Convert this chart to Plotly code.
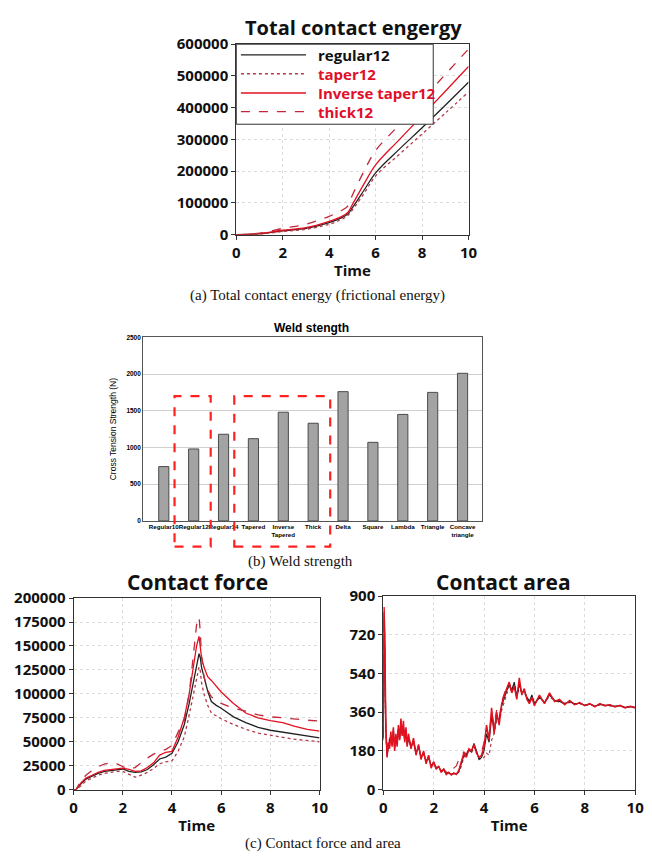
import plotly.graph_objects as go

# ---------------- data ----------------
SERIES = ["regular12", "taper12", "inverse taper12", "thick12"]
LEGEND_LABELS = ["regular12", "taper12", "Inverse taper12", "thick12"]

# (a) total contact energy
T_ENERGY = [0, 1, 2, 3, 4, 4.5, 4.8, 5, 5.5, 6, 7, 8, 9, 10]
E_REGULAR = [0, 3000, 12000, 20000, 38000, 52000, 65000, 85000, 140000, 195000, 268000, 337000, 408000, 480000]
E_TAPER = [0, 2000, 10000, 17000, 33000, 47000, 60000, 78000, 130000, 185000, 252000, 317000, 383000, 450000]
E_INVERSE = [0, 3500, 14000, 22000, 42000, 56000, 70000, 95000, 160000, 220000, 298000, 375000, 452000, 530000]
E_THICK = [0, 5000, 20000, 33000, 58000, 75000, 90000, 125000, 200000, 265000, 345000, 425000, 505000, 585000]

# (b) weld strength
WELD_CATS = ["Regular10", "Regular12", "Regular14", "Tapered", "Inverse<br>Tapered", "Thick",
             "Delta", "Square", "Lambda", "Triangle", "Concave<br>triangle"]
WELD_VALUES = [740, 980, 1180, 1120, 1480, 1330, 1760, 1070, 1450, 1750, 2010]
BOX_GROUPS = [(1, 1), (3, 5)]  # category index ranges highlighted by dashed boxes

# (c) contact force
T_FORCE = [0, 0.1, 0.3, 0.5, 0.75, 1, 1.25, 1.5, 1.75, 2, 2.25, 2.5, 2.75, 3, 3.25, 3.5, 3.75, 4,
           4.25, 4.5, 4.7, 4.9, 5.0, 5.1, 5.15, 5.2, 5.3, 5.45, 5.6, 5.8, 6, 6.5, 7, 7.5, 8, 8.5, 9, 9.5, 10]
F_REGULAR = [0, 0, 6000, 11000, 14000, 17000, 19000, 20000, 21000, 21500, 19000, 18000, 18500, 21000, 26000,
             32000, 34000, 38000, 50000, 68000, 90000, 118000, 132000, 142000, 138000, 128000, 118000, 103000,
             92000, 88000, 85000, 76000, 70000, 65000, 62000, 60000, 57500, 55500, 54000]
F_TAPER = [0, 0, 4000, 9000, 12000, 15000, 17000, 18000, 19000, 19000, 16000, 13000, 15000, 18000, 22000,
           27000, 29000, 30000, 40000, 55000, 78000, 105000, 118000, 128000, 124000, 112000, 100000, 88000,
           80000, 77000, 74000, 68000, 63000, 59000, 56500, 54500, 52500, 51000, 50000]
F_INVERSE = [0, 0, 7000, 12000, 15000, 18000, 20000, 21000, 22000, 22500, 21000, 19000, 19500, 23000, 28000,
             36000, 39000, 40000, 55000, 75000, 100000, 135000, 150000, 160000, 150000, 138000, 128000, 118000,
             114000, 108000, 102000, 90000, 80000, 75000, 72000, 70000, 66000, 63000, 61000]
F_THICK = [0, 0, 9000, 15000, 20000, 24000, 26500, 28000, 27000, 24000, 21000, 23000, 28000, 33000, 37000,
           40000, 42000, 46000, 60000, 72000, 100000, 150000, 172000, 180000, 165000, 140000, 118000, 104000,
           97000, 93000, 90000, 85000, 82000, 78000, 76000, 75000, 73500, 72500, 71500]

# (c) contact area
T_AREA = [0, 0.03, 0.06, 0.1, 0.15, 0.2, 0.25, 0.3, 0.35, 0.4, 0.45, 0.5, 0.55, 0.6, 0.65, 0.7, 0.75, 0.8, 0.85, 0.9, 0.95, 1.0,
          1.1, 1.2, 1.3, 1.4, 1.5, 1.6, 1.7, 1.8, 1.9, 2.0,
          2.1, 2.2, 2.3, 2.4, 2.5, 2.6, 2.7, 2.8, 2.9, 3.0,
          3.1, 3.2, 3.3, 3.4, 3.5, 3.6, 3.7, 3.8, 3.9, 4.0,
          4.1, 4.2, 4.3, 4.4, 4.5, 4.6, 4.7, 4.8, 4.9, 5.0,
          5.1, 5.2, 5.3, 5.4, 5.5, 5.6, 5.7, 5.8, 5.9, 6.0,
          6.2, 6.4, 6.6, 6.8, 7.0, 7.2, 7.4, 7.6, 7.8, 8.0,
          8.2, 8.4, 8.6, 8.8, 9.0, 9.2, 9.4, 9.6, 9.8, 10.0]
A_REGULAR = [240, 820, 650, 280, 160, 200, 230, 250, 210, 270, 200, 240, 210, 280, 240, 310, 260, 290, 230, 270, 210, 240,
             200, 225, 170, 200, 150, 170, 130, 150, 110, 125,
             100, 105, 85, 90, 75, 78, 70, 75, 72, 85,
             120, 160, 160, 185, 175, 215, 180, 140, 150, 180,
             260, 220, 340, 280, 340, 320, 390, 430, 460, 490,
             460, 500, 430, 490, 450, 460, 430, 410, 440, 400,
             430, 405, 440, 415, 410, 400, 410, 398, 402, 392,
             398, 388, 396, 392, 392, 387, 390, 383, 386, 381]
A_TAPER = [230, 800, 600, 260, 170, 210, 240, 230, 220, 250, 210, 230, 220, 260, 250, 290, 260, 280, 240, 260, 220, 230,
           205, 215, 175, 195, 155, 165, 135, 145, 115, 120,
           105, 100, 90, 88, 80, 76, 74, 73, 72, 80,
           110, 150, 165, 180, 170, 200, 175, 145, 140, 150,
           170, 160, 230, 260, 320, 310, 370, 410, 450, 480,
           470, 490, 440, 470, 455, 450, 425, 415, 420, 405,
           425, 410, 430, 418, 405, 402, 405, 400, 400, 394,
           396, 390, 394, 390, 390, 388, 388, 384, 385, 380]
A_INVERSE = [250, 850, 720, 300, 150, 220, 190, 270, 200, 290, 180, 260, 200, 300, 230, 330, 250, 320, 220, 290, 200, 260,
             190, 240, 160, 210, 140, 180, 120, 160, 100, 130,
             95, 110, 80, 95, 70, 80, 68, 78, 70, 90,
             130, 170, 150, 190, 180, 210, 170, 150, 160, 200,
             300, 230, 380, 260, 360, 300, 400, 440, 470, 500,
             450, 480, 420, 520, 440, 470, 420, 400, 430, 390,
             440, 400, 450, 410, 420, 395, 415, 395, 405, 390,
             400, 385, 400, 390, 395, 385, 392, 380, 388, 382]
A_THICK = [245, 830, 680, 290, 155, 215, 200, 260, 205, 280, 190, 250, 205, 290, 235, 320, 255, 305, 225, 280, 205, 250,
           195, 230, 165, 205, 145, 175, 125, 155, 105, 128,
           98, 108, 84, 96, 80, 95, 90, 100, 110, 140,
           160, 175, 165, 195, 185, 205, 180, 165, 175, 220,
           280, 250, 360, 300, 370, 330, 410, 450, 480, 495,
           455, 485, 425, 500, 445, 465, 425, 405, 425, 395,
           435, 402, 445, 412, 415, 398, 412, 396, 404, 391,
           399, 386, 398, 391, 393, 386, 391, 381, 387, 381]

# ---------------- styles ----------------
STYLE = {
    "regular12": dict(color="#222222", dash="solid"),
    "taper12": dict(color="#b23a48", dash="dot"),
    "inverse taper12": dict(color="#e3101f", dash="solid"),
    "thick12": dict(color="#c0283a", dash="dash"),
}
LEGEND_TEXT = {"regular12": "#111111", "taper12": "#e0102a", "inverse taper12": "#e0102a", "thick12": "#e0102a"}
SANS = "Open Sans"
SERIF = "Liberation Serif"
INK = "#111111"

fig = go.Figure()

energy = {"regular12": E_REGULAR, "taper12": E_TAPER, "inverse taper12": E_INVERSE, "thick12": E_THICK}
for name in SERIES:
    st = STYLE[name]
    fig.add_trace(go.Scatter(
        x=T_ENERGY, y=energy[name], mode="lines", line_shape="spline",
        line=dict(color=st["color"], dash=st["dash"], width=1.3),
        name=name, xaxis="x", yaxis="y", showlegend=False))

fig.add_trace(go.Bar(
    x=list(range(len(WELD_CATS))), y=WELD_VALUES, width=0.34,
    marker=dict(color="#a3a3a3", line=dict(color="#4a4a4a", width=1)),
    xaxis="x2", yaxis="y2", showlegend=False))

force = {"regular12": F_REGULAR, "taper12": F_TAPER, "inverse taper12": F_INVERSE, "thick12": F_THICK}
for name in SERIES:
    st = STYLE[name]
    fig.add_trace(go.Scatter(
        x=T_FORCE, y=force[name], mode="lines",
        line=dict(color=st["color"], dash=st["dash"], width=1.3),
        xaxis="x3", yaxis="y3", showlegend=False, name=name))

area = {"regular12": A_REGULAR, "taper12": A_TAPER, "inverse taper12": A_INVERSE, "thick12": A_THICK}
for name in ["thick12", "taper12", "regular12", "inverse taper12"]:
    st = STYLE[name]
    fig.add_trace(go.Scatter(
        x=T_AREA, y=area[name], mode="lines",
        line=dict(color=st["color"], dash=st["dash"], width=1.5 if name == "inverse taper12" else 1.2),
        xaxis="x4", yaxis="y4", showlegend=False, name=name))

W, H = 652, 866


def px_x(v):
    return v / W


def px_y(v):
    return 1 - v / H


tick_font = dict(family=SANS, size=15, color=INK, weight="bold")
line_axis = dict(showline=True, linecolor="#333333", linewidth=1, mirror=True,
                 showgrid=True, gridcolor="#dcdcdc", griddash="dot", zeroline=False,
                 ticks="outside", ticklen=4, tickcolor="#333333", tickfont=tick_font)
time_title = dict(text="Time", font=dict(family=SANS, size=15, color=INK, weight="bold"), standoff=4)
small_font = dict(family="Liberation Sans", size=6.2, color="#000000", weight="bold")

fig.update_layout(
    width=W, height=H, margin=dict(l=0, r=0, t=0, b=0),
    paper_bgcolor="white", plot_bgcolor="white", showlegend=False,
    xaxis=dict(domain=[px_x(237), px_x(474)], range=[0, 10], dtick=2, anchor="y",
               title=time_title, **line_axis),
    yaxis=dict(domain=[px_y(229), px_y(34)], range=[0, 600000], dtick=100000, tickformat="d",
               anchor="x", **line_axis),
    xaxis2=dict(domain=[px_x(142), px_x(488)], range=[-0.69, 10.66], anchor="y2",
                tickmode="array", tickvals=list(range(len(WELD_CATS))), ticktext=WELD_CATS,
                tickangle=0, tickfont=small_font,
                showline=True, linecolor="#555555", mirror=True, showgrid=False, ticks=""),
    yaxis2=dict(domain=[px_y(522), px_y(334)], range=[0, 2500], dtick=500, anchor="x2",
                tickfont=dict(family="Liberation Sans", size=6.5, color="#000000", weight="bold"),
                showline=True, linecolor="#555555", mirror=True, showgrid=True, gridcolor="#d0d0d0",
                zeroline=False, ticks="",
                title=dict(text="Cross Tension Strength (N)", standoff=8,
                           font=dict(family="Liberation Sans", size=8.5, color="#000000"))),
    xaxis3=dict(domain=[px_x(71), px_x(322)], range=[0, 10], dtick=2, anchor="y3",
                title=time_title, **line_axis),
    yaxis3=dict(domain=[px_y(797), px_y(601)], range=[0, 200000], dtick=25000, tickformat="d",
                anchor="x3", **line_axis),
    xaxis4=dict(domain=[px_x(387), px_x(644)], range=[0, 10], dtick=2, anchor="y4",
                title=time_title, **line_axis),
    yaxis4=dict(domain=[px_y(797), px_y(599)], range=[0, 900], dtick=180, anchor="x4", **line_axis),
)

# legend box of the energy chart (drawn in the subplot's domain coordinates)
fig.add_shape(type="rect", xref="x domain", yref="y domain", x0=0, x1=0.848, y0=0.58, y1=1,
              line=dict(color="#333333", width=1), fillcolor="white", layer="above")
LEG_ROWS = [0.944, 0.845, 0.744, 0.646]
for name, label, ry in zip(SERIES, LEGEND_LABELS, LEG_ROWS):
    st = STYLE[name]
    fig.add_shape(type="line", xref="x domain", yref="y domain", x0=0.02, x1=0.30, y0=ry, y1=ry,
                  line=dict(color=st["color"], dash=st["dash"], width=1.3), layer="above")
    fig.add_annotation(text=label, xref="x domain", yref="y domain", x=0.345, y=ry,
                       xanchor="left", yanchor="middle", showarrow=False,
                       font=dict(family=SANS, size=15, color=LEGEND_TEXT[name], weight="bold"))

# dashed highlight boxes on the weld chart, placed from category indices
r0, r1 = fig.layout.xaxis2.range
for a, b in BOX_GROUPS:
    fx0 = (a - 0.64 - r0) / (r1 - r0)
    fx1 = (b + 0.57 - r0) / (r1 - r0)
    fig.add_shape(type="rect", xref="x2 domain", yref="y2 domain", x0=fx0, x1=fx1, y0=-0.14, y1=0.68,
                  line=dict(color="#ff2020", width=2.2, dash="dash"), fillcolor="rgba(0,0,0,0)")

titles = [
    ("Total contact engergy", 357, 17, 20),
    ("Contact force", 197, 585, 21),
    ("Contact area", 510, 585, 21),
]
for text, cx, cy, size in titles:
    fig.add_annotation(text=text, x=px_x(cx), y=px_y(cy), xref="paper", yref="paper",
                       showarrow=False, xanchor="center", yanchor="middle",
                       font=dict(family=SANS, size=size, color=INK, weight="bold"))

fig.add_annotation(text="Weld stength", x=px_x(314), y=px_y(324), xref="paper", yref="paper",
                   showarrow=False, font=dict(family="Liberation Sans", size=12, color="#000000", weight="bold"))

captions = [
    ("(a) Total contact energy (frictional energy)", 320, 291),
    ("(b) Weld strength", 303, 564),
    ("(c) Contact force and area", 325, 852),
]
for text, cx, cy in captions:
    fig.add_annotation(text=text, x=px_x(cx), y=px_y(cy), xref="paper", yref="paper",
                       showarrow=False, xanchor="center", yanchor="middle",
                       font=dict(family=SERIF, size=15, color=INK))

fig.write_html("out.html")
